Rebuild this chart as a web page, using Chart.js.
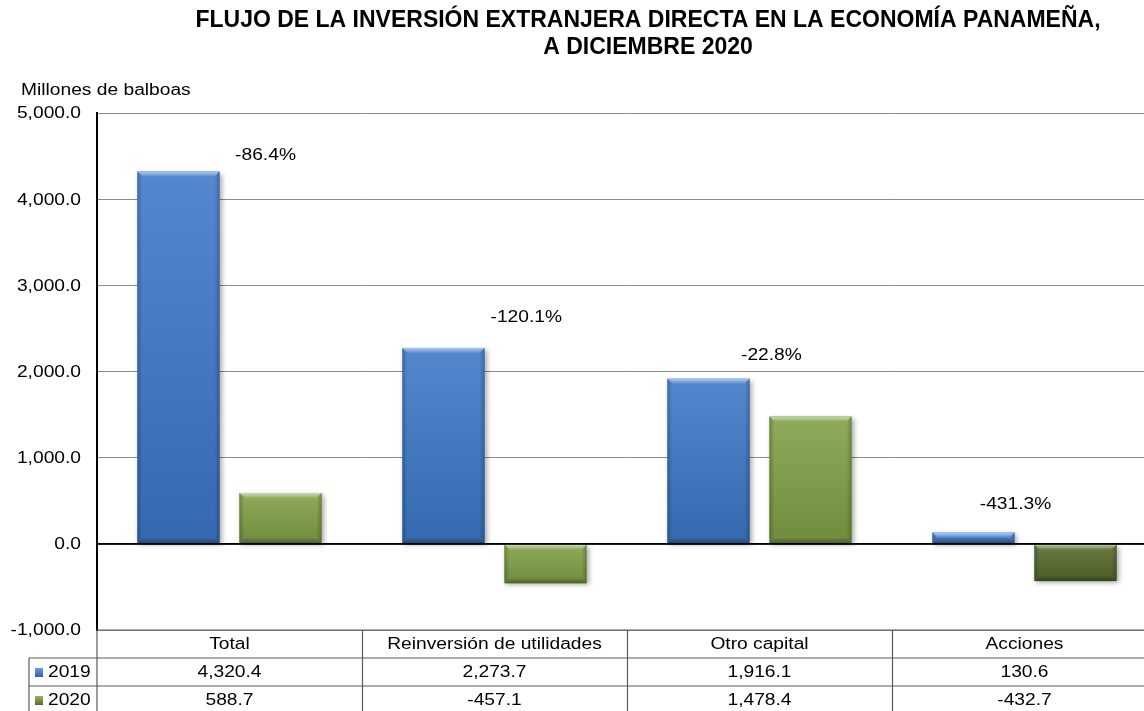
<!DOCTYPE html>
<html>
<head>
<meta charset="utf-8">
<script src="https://cdn.jsdelivr.net/npm/chart.js@4"></script>
<style>
html,body{margin:0;padding:0;background:#fff;overflow:hidden;}
#wrap{position:relative;width:1160px;height:711px;}
</style>
</head>
<body>
<div id="wrap"><canvas id="c" width="1160" height="711"></canvas></div>
<script>
// ---- data ----
const categories = ['Total', 'Reinversión de utilidades', 'Otro capital', 'Acciones'];
const seriesNames = ['2019', '2020'];
const values2019 = [4320.4, 2273.7, 1916.1, 130.6];
const values2020 = [588.7, -457.1, 1478.4, -432.7];
const changeLabels = ['-86.4%', '-120.1%', '-22.8%', '-431.3%'];
const yTickValues = [-1000, 0, 1000, 2000, 3000, 4000, 5000];
const titleLines = ['FLUJO DE LA INVERSIÓN EXTRANJERA DIRECTA EN LA ECONOMÍA PANAMEÑA,', 'A DICIEMBRE 2020'];
const unitLabel = 'Millones de balboas';

// ---- styling / annotation placement (not data) ----
const FONT = '"Liberation Sans", Arial, sans-serif';
const SX = 1.2; // horizontal stretch of the reference body text
const changeAnchors = [ // dx: offset from category centre (fraction of category), v: value units for label centre
  {dx: 0.136, v: 4503}, {dx: 0.12, v: 2623}, {dx: 0.045, v: 2182}, {dx: -0.034, v: 453}
];
const colors2019 = ['#3c78c7', '#3c78c7', '#3c78c7', '#4080d0'];
const colors2020 = ['#7f9f45', '#7f9f45', '#7f9f45', '#566a2b'];

const fmt = v => v.toLocaleString('en-US', {minimumFractionDigits: 1, maximumFractionDigits: 1});

function sText(c, str, x, y, align, font, sx) {
  c.save();
  c.font = font;
  c.fillStyle = '#000';
  c.textBaseline = 'middle';
  c.textAlign = align;
  c.translate(x, y);
  c.scale(sx, 1);
  c.fillText(str, 0, 0);
  c.restore();
}

function barRect(el) {
  const p = el.getProps(['x', 'y', 'base', 'width'], true);
  const l = p.x - p.width / 2;
  const t = Math.min(p.y, p.base);
  const h = Math.abs(p.base - p.y);
  return {l, t, w: p.width, h};
}

const decorPlugin = {
  id: 'decor',
  beforeDatasetsDraw(chart) {
    const c = chart.ctx;
    c.save();
    chart.data.datasets.forEach((ds, i) => {
      chart.getDatasetMeta(i).data.forEach((el, j) => {
        const r = barRect(el);
        c.shadowColor = 'rgba(0,0,0,0.35)';
        c.shadowBlur = 5;
        c.shadowOffsetX = 2;
        c.shadowOffsetY = 2;
        c.fillStyle = ds.backgroundColor[j];
        c.fillRect(r.l, r.t, r.w, r.h);
      });
    });
    c.restore();
  },
  afterDatasetsDraw(chart) {
    const c = chart.ctx;
    const area = chart.chartArea;
    c.save();
    chart.data.datasets.forEach((ds, i) => {
      chart.getDatasetMeta(i).data.forEach((el) => {
        const r = barRect(el);
        if (r.h < 1) return;
        let g = c.createLinearGradient(0, r.t, 0, r.t + r.h);
        g.addColorStop(0, 'rgba(255,255,255,0.12)');
        g.addColorStop(1, 'rgba(0,0,0,0.12)');
        c.fillStyle = g;
        c.fillRect(r.l, r.t, r.w, r.h);
        const b = Math.min(5, r.h / 2);
        g = c.createLinearGradient(0, r.t, 0, r.t + b);
        g.addColorStop(0, 'rgba(255,255,255,0.55)');
        g.addColorStop(1, 'rgba(255,255,255,0.05)');
        c.fillStyle = g;
        c.beginPath();
        c.moveTo(r.l, r.t); c.lineTo(r.l + r.w, r.t); c.lineTo(r.l + r.w - b, r.t + b); c.lineTo(r.l + b, r.t + b); c.closePath();
        c.fill();
        g = c.createLinearGradient(0, r.t + r.h - b, 0, r.t + r.h);
        g.addColorStop(0, 'rgba(0,0,0,0.05)');
        g.addColorStop(1, 'rgba(0,0,0,0.30)');
        c.fillStyle = g;
        c.beginPath();
        c.moveTo(r.l + b, r.t + r.h - b); c.lineTo(r.l + r.w - b, r.t + r.h - b); c.lineTo(r.l + r.w, r.t + r.h); c.lineTo(r.l, r.t + r.h); c.closePath();
        c.fill();
        g = c.createLinearGradient(r.l, 0, r.l + b, 0);
        g.addColorStop(0, 'rgba(0,0,0,0.22)');
        g.addColorStop(1, 'rgba(0,0,0,0)');
        c.fillStyle = g;
        c.beginPath();
        c.moveTo(r.l, r.t); c.lineTo(r.l + b, r.t + b); c.lineTo(r.l + b, r.t + r.h - b); c.lineTo(r.l, r.t + r.h); c.closePath();
        c.fill();
        g = c.createLinearGradient(r.l + r.w, 0, r.l + r.w - b, 0);
        g.addColorStop(0, 'rgba(0,0,0,0.22)');
        g.addColorStop(1, 'rgba(0,0,0,0)');
        c.fillStyle = g;
        c.beginPath();
        c.moveTo(r.l + r.w, r.t); c.lineTo(r.l + r.w - b, r.t + b); c.lineTo(r.l + r.w - b, r.t + r.h - b); c.lineTo(r.l + r.w, r.t + r.h); c.closePath();
        c.fill();
      });
    });
    const y0 = chart.scales.y.getPixelForValue(0);
    c.strokeStyle = '#000';
    c.lineWidth = 1.6;
    c.beginPath();
    c.moveTo(area.left, y0);
    c.lineTo(area.right, y0);
    c.stroke();
    c.restore();
  },
  afterDraw(chart) {
    const c = chart.ctx;
    const area = chart.chartArea;
    const xs = chart.scales.x;
    const ys = chart.scales.y;
    const catW = (area.right - area.left) / categories.length;

    // title
    sText(c, titleLines[0], 648, 21, 'center', 'bold 23px ' + FONT, 1);
    sText(c, titleLines[1], 648, 48, 'center', 'bold 23px ' + FONT, 1);
    // unit label
    sText(c, unitLabel, 21, 91, 'left', '16px ' + FONT, SX);

    // y tick labels from the scale ticks
    ys.ticks.forEach(t => {
      sText(c, fmt(t.value), area.left - 16, ys.getPixelForValue(t.value) + 1, 'right', '16px ' + FONT, SX);
    });

    // change labels
    changeLabels.forEach((lab, i) => {
      const a = changeAnchors[i];
      const x = xs.getPixelForValue(i) + a.dx * catW;
      const y = ys.getPixelForValue(a.v);
      sText(c, lab, x, y, 'center', '16px ' + FONT, SX);
    });

    // data table
    const top = area.bottom;
    const rowH = 28;
    const legendLeft = 29;
    c.save();
    c.strokeStyle = '#5a5a5a';
    c.lineWidth = 1.2;
    c.beginPath();
    c.moveTo(area.left, top); c.lineTo(area.right, top);
    for (let r = 1; r <= 3; r++) {
      c.moveTo(legendLeft, top + rowH * r); c.lineTo(area.right, top + rowH * r);
    }
    for (let i = 1; i < categories.length; i++) {
      const x = Math.round(xs.getPixelForValue(i) - catW / 2) + 0.5;
      c.moveTo(x, top); c.lineTo(x, chart.height);
    }
    c.moveTo(legendLeft, top + rowH); c.lineTo(legendLeft, chart.height);
    c.moveTo(area.left, top); c.lineTo(area.left, chart.height);
    c.stroke();
    c.restore();

    categories.forEach((cat, i) => {
      const x = xs.getPixelForValue(i);
      sText(c, cat, x, top + rowH / 2 + 1, 'center', '16px ' + FONT, SX);
      sText(c, fmt(values2019[i]), x, top + rowH * 1.5 + 1, 'center', '16px ' + FONT, SX);
      sText(c, fmt(values2020[i]), x, top + rowH * 2.5 + 1, 'center', '16px ' + FONT, SX);
    });
    seriesNames.forEach((name, r) => {
      const cy = top + rowH * (1.5 + r);
      const g = c.createLinearGradient(0, cy - 4, 0, cy + 5);
      g.addColorStop(0, r === 0 ? '#6a9ee0' : '#9ab65e');
      g.addColorStop(1, r === 0 ? '#2f62a6' : '#55692b');
      c.fillStyle = g;
      c.fillRect(35, cy - 4, 8, 9);
      sText(c, name, 48, cy + 1, 'left', '16px ' + FONT, SX);
    });
  }
};

new Chart(document.getElementById('c'), {
  type: 'bar',
  data: {
    labels: categories,
    datasets: [
      {label: seriesNames[0], data: values2019, backgroundColor: colors2019, borderWidth: 0},
      {label: seriesNames[1], data: values2020, backgroundColor: colors2020, borderWidth: 0}
    ]
  },
  options: {
    responsive: false,
    animation: false,
    devicePixelRatio: 1,
    categoryPercentage: 0.77,
    barPercentage: 0.804,
    layout: {padding: {top: 113, bottom: 81, left: 0, right: 3}},
    plugins: {legend: {display: false}, tooltip: {enabled: false}, title: {display: false}},
    scales: {
      x: {display: false},
      y: {
        min: -1000, max: 5000,
        afterFit: s => { s.width = 97; },
        afterBuildTicks: s => { s.ticks = yTickValues.map(v => ({value: v})); },
        ticks: {display: false, stepSize: 1000},
        grid: {
          drawTicks: false,
          color: ctx => ctx.tick && ctx.tick.value === 0 ? '#000' : '#8a8a8a',
          lineWidth: ctx => ctx.tick && ctx.tick.value === 0 ? 1.6 : 1
        },
        border: {display: true, color: '#000', width: 2}
      }
    }
  },
  plugins: [decorPlugin]
});
</script>
</body>
</html>
